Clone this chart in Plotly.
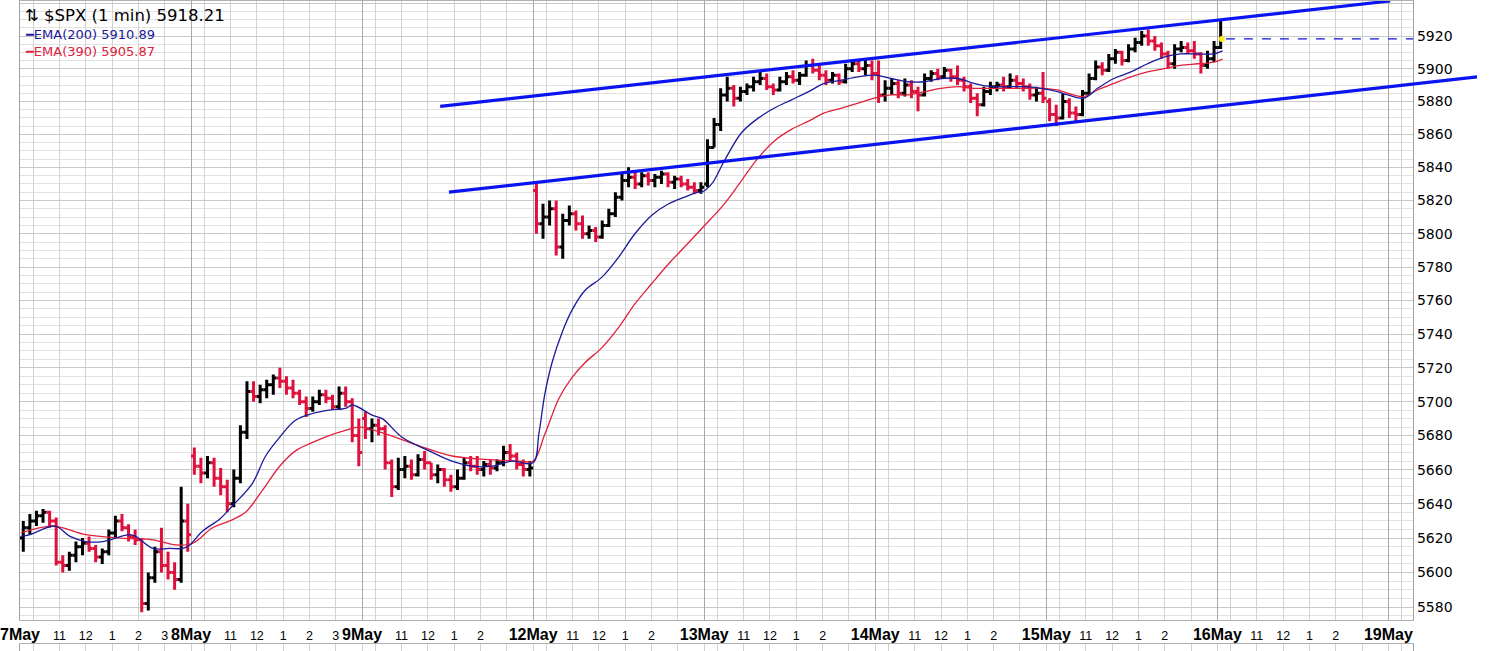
import math
import plotly.graph_objects as go

# ---------------- data (15-minute OHLC bars) ----------------
day_labels = ["7May", "8May", "9May", "12May", "13May", "14May", "15May", "16May", "19May"]
bars_per_day = [26, 26, 26, 26, 26, 26, 26, 1]

opens = [
    # 7 May
    5620, 5626, 5630, 5633, 5635, 5630, 5606, 5604, 5610, 5615, 5617, 5614, 5609, 5612, 5623, 5630, 5626, 5621, 5619, 5582, 5597, 5612, 5604, 5600, 5596, 5630,
    # 8 May
    5668, 5662, 5658, 5664, 5655, 5650, 5640, 5655, 5682, 5706, 5703, 5707, 5710, 5714, 5712, 5708, 5705, 5700, 5696, 5700, 5704, 5702, 5697, 5705, 5700, 5680,
    # 9 May
    5690, 5684, 5686, 5684, 5664, 5650, 5660, 5662, 5657, 5666, 5664, 5657, 5660, 5654, 5650, 5655, 5664, 5662, 5660, 5663, 5661, 5664, 5670, 5668, 5663, 5660,
    # 12 May
    5826, 5806, 5810, 5815, 5792, 5808, 5812, 5806, 5800, 5802, 5798, 5805, 5812, 5822, 5832, 5834, 5830, 5835, 5832, 5834, 5836, 5831, 5833, 5830, 5828, 5826,
    # 13 May
    5830, 5852, 5866, 5884, 5888, 5882, 5886, 5889, 5892, 5894, 5889, 5887, 5892, 5895, 5893, 5896, 5902, 5899, 5896, 5893, 5896, 5892, 5900, 5903, 5900, 5902,
    # 14 May
    5897, 5884, 5888, 5891, 5885, 5890, 5886, 5884, 5894, 5897, 5895, 5899, 5895, 5893, 5889, 5882, 5878, 5886, 5889, 5890, 5889, 5893, 5891, 5889, 5884, 5885,
    # 15 May
    5880, 5872, 5870, 5880, 5873, 5872, 5885, 5894, 5901, 5899, 5906, 5910, 5905, 5912, 5916, 5920, 5917, 5914, 5909, 5903, 5912, 5913, 5911, 5909, 5902, 5906,
    # 16 May
    5913,
]
highs = [
    5630, 5634, 5636, 5637, 5636, 5632, 5610, 5612, 5618, 5620, 5621, 5616, 5614, 5625, 5633, 5634, 5628, 5625, 5620, 5600, 5615, 5626, 5612, 5606, 5650, 5640,
    5673, 5667, 5668, 5667, 5661, 5654, 5660, 5686, 5712, 5712, 5710, 5713, 5716, 5720, 5715, 5713, 5707, 5703, 5703, 5707, 5707, 5704, 5709, 5709, 5702, 5690,
    5694, 5690, 5690, 5686, 5666, 5667, 5668, 5666, 5669, 5671, 5664, 5663, 5661, 5657, 5660, 5667, 5668, 5668, 5665, 5666, 5666, 5674, 5675, 5670, 5666, 5665,
    5830, 5818, 5820, 5820, 5812, 5817, 5814, 5811, 5805, 5804, 5808, 5815, 5825, 5836, 5840, 5837, 5837, 5837, 5836, 5838, 5837, 5835, 5835, 5833, 5831, 5831,
    5857, 5870, 5888, 5895, 5890, 5889, 5891, 5895, 5898, 5897, 5891, 5895, 5898, 5899, 5898, 5905, 5906, 5902, 5899, 5898, 5897, 5903, 5905, 5905, 5906, 5905,
    5905, 5893, 5894, 5893, 5894, 5893, 5889, 5897, 5899, 5900, 5901, 5900, 5902, 5895, 5891, 5885, 5889, 5892, 5892, 5895, 5897, 5896, 5894, 5891, 5889, 5898,
    5882, 5878, 5885, 5882, 5877, 5887, 5897, 5905, 5904, 5909, 5912, 5911, 5915, 5919, 5923, 5924, 5920, 5916, 5911, 5915, 5917, 5916, 5917, 5910, 5911, 5917,
    5930,
]
lows = [
    5612, 5622, 5627, 5629, 5626, 5604, 5600, 5601, 5606, 5610, 5612, 5606, 5605, 5610, 5620, 5624, 5618, 5616, 5577, 5578, 5594, 5600, 5596, 5590, 5594, 5612,
    5657, 5652, 5655, 5650, 5645, 5635, 5638, 5652, 5678, 5700, 5699, 5702, 5704, 5708, 5704, 5702, 5698, 5691, 5694, 5698, 5699, 5695, 5695, 5697, 5676, 5662,
    5678, 5676, 5680, 5660, 5644, 5648, 5655, 5654, 5656, 5660, 5654, 5652, 5650, 5647, 5648, 5654, 5659, 5657, 5656, 5657, 5659, 5662, 5665, 5660, 5656, 5656,
    5800, 5797, 5805, 5787, 5785, 5805, 5802, 5797, 5797, 5795, 5797, 5804, 5810, 5820, 5828, 5827, 5828, 5829, 5828, 5830, 5828, 5827, 5828, 5826, 5824, 5824,
    5828, 5852, 5862, 5880, 5877, 5880, 5884, 5886, 5890, 5887, 5884, 5886, 5890, 5891, 5890, 5895, 5897, 5893, 5890, 5891, 5890, 5891, 5898, 5898, 5896, 5893,
    5879, 5880, 5884, 5882, 5883, 5882, 5874, 5883, 5892, 5893, 5894, 5892, 5890, 5886, 5879, 5871, 5877, 5884, 5886, 5886, 5888, 5888, 5886, 5881, 5880, 5879,
    5868, 5865, 5869, 5870, 5868, 5871, 5884, 5893, 5896, 5898, 5903, 5902, 5904, 5910, 5914, 5914, 5911, 5906, 5900, 5900, 5910, 5909, 5906, 5897, 5900, 5904,
    5912,
]
closes = [
    5626, 5630, 5633, 5635, 5630, 5606, 5604, 5610, 5615, 5617, 5614, 5609, 5612, 5623, 5630, 5626, 5621, 5619, 5582, 5597, 5612, 5604, 5600, 5596, 5630, 5622,
    5662, 5658, 5664, 5655, 5650, 5640, 5655, 5682, 5706, 5703, 5707, 5710, 5714, 5712, 5708, 5705, 5700, 5696, 5700, 5704, 5702, 5697, 5705, 5700, 5680, 5670,
    5684, 5686, 5684, 5664, 5650, 5660, 5662, 5657, 5666, 5664, 5657, 5660, 5654, 5650, 5655, 5664, 5662, 5660, 5663, 5661, 5664, 5670, 5668, 5663, 5660, 5661,
    5806, 5810, 5815, 5792, 5808, 5812, 5806, 5800, 5802, 5798, 5805, 5812, 5822, 5832, 5834, 5830, 5835, 5832, 5834, 5836, 5831, 5833, 5830, 5828, 5826, 5828,
    5852, 5866, 5884, 5888, 5882, 5886, 5889, 5892, 5894, 5889, 5887, 5892, 5895, 5893, 5896, 5902, 5899, 5896, 5893, 5896, 5892, 5900, 5903, 5900, 5902, 5897,
    5884, 5888, 5891, 5885, 5890, 5886, 5884, 5894, 5897, 5895, 5899, 5895, 5893, 5889, 5882, 5878, 5886, 5889, 5890, 5889, 5893, 5891, 5889, 5884, 5885, 5882,
    5872, 5870, 5880, 5873, 5872, 5885, 5894, 5901, 5899, 5906, 5910, 5905, 5912, 5916, 5920, 5917, 5914, 5909, 5903, 5912, 5913, 5911, 5909, 5902, 5906, 5913,
    5918.21,
]

# EMA readings: time in trading minutes since 7 May 9:30 (390 per session)
ema200_t = [2, 23, 80, 114, 150, 189, 250, 264, 303, 341, 371, 387, 416, 455, 485, 530, 560, 592, 628, 667, 705, 742, 758,
            803, 826, 871, 933, 985, 1031, 1076, 1122, 1170, 1183, 1197, 1213, 1236, 1258, 1288, 1327, 1365, 1402, 1440,
            1479, 1515, 1547, 1554, 1577, 1606, 1645, 1684, 1720, 1759, 1798, 1834, 1873, 1911, 1948, 1986, 2025, 2062,
            2100, 2139, 2175, 2214, 2253, 2289, 2328, 2366, 2389, 2426, 2457, 2494, 2533, 2571, 2608, 2646, 2685, 2721, 2742]
ema200_v = [5621, 5622, 5627, 5621, 5618, 5618, 5622, 5621, 5614, 5614, 5614, 5616, 5624, 5631, 5639, 5652, 5668, 5679, 5689,
            5693, 5695, 5696, 5698, 5692, 5690, 5679, 5671, 5665, 5662, 5662, 5665, 5664, 5681, 5705, 5723, 5741, 5754, 5766,
            5774, 5786, 5800, 5811, 5818, 5822, 5825, 5825, 5830, 5844, 5861, 5870, 5876, 5881, 5886, 5891, 5893, 5895, 5896,
            5894, 5892, 5892, 5894, 5894, 5891, 5889, 5889, 5889, 5888, 5886, 5884, 5882, 5888, 5894, 5898, 5903, 5907, 5909,
            5909, 5909, 5910.89]
ema390_t = [2, 75, 150, 228, 303, 355, 394, 439, 478, 514, 553, 592, 628, 667, 705, 742, 774, 833, 910, 985, 1060, 1138,
            1170, 1197, 1229, 1258, 1288, 1327, 1365, 1402, 1440, 1479, 1515, 1554, 1606, 1645, 1684, 1720, 1759, 1798, 1834,
            1873, 1911, 1948, 1986, 2025, 2062, 2100, 2139, 2175, 2214, 2253, 2289, 2328, 2366, 2389, 2426, 2457, 2494, 2533,
            2571, 2608, 2646, 2685, 2721, 2742]
ema390_v = [5623, 5627, 5622, 5620, 5619, 5616, 5617, 5626, 5630, 5635, 5648, 5662, 5671, 5676, 5680, 5683, 5685, 5681, 5674,
            5668, 5666, 5665, 5665, 5681, 5702, 5714, 5723, 5732, 5744, 5758, 5770, 5782, 5792, 5803, 5818, 5832, 5846, 5856,
            5863, 5868, 5873, 5876, 5879, 5882, 5884, 5884, 5886, 5888, 5889, 5888, 5888, 5888, 5888, 5888, 5887, 5885, 5883,
            5887, 5891, 5895, 5898, 5900, 5902, 5903, 5904, 5905.87]

# hand-drawn trend lines (time in trading minutes, price)
upper_t = [958, 3124]
upper_p = [5877, 5941.5]
lower_t = [978, 3322]
lower_p = [5825, 5895]

y_ticks = list(range(5580, 5941, 20))
y_minor = list(range(5575, 5941, 5))
hour_offsets = [30, 90, 150, 210, 270, 330]
hour_labels = ["", "11", "12", "1", "2", "3"]
days_with_3pm_label = [0, 1]

last_price = closes[-1]
ema200_last = ema200_v[-1]
ema390_last = ema390_v[-1]

# ---------------- derived time axis ----------------
SESSION = 390
BAR = 15
bar_t = []
for d, n in enumerate(bars_per_day):
    for i in range(n):
        bar_t.append(d * SESSION + i * BAR + BAR / 2)

W, H = 1492, 651
X_MAX = 3176.4
PLOT_W = 1396          # price panel width
PAPER_W = 1468         # paper width (extra room so trend lines can run past the scale)
X2_MAX = X_MAX * PAPER_W / PLOT_W
MAIN_BOTTOM = 620      # price panel bottom (px from top)
LOWER_TOP = 644        # next indicator panel top (px from top)

tickvals, ticktext = [], []
for d, lab in enumerate(day_labels):
    base = d * SESSION
    tickvals.append(base)
    ticktext.append("<b><span style='font-size:16px'>%s</span></b>" % lab)
    for off, hl in zip(hour_offsets, hour_labels):
        v = base + off
        if v > X_MAX:
            continue
        if hl == "3" and d not in days_with_3pm_label:
            hl = ""
        tickvals.append(v)
        ticktext.append(hl)
day_vals = [d * SESSION for d in range(1, len(day_labels))]

fig = go.Figure()

fig.add_trace(go.Ohlc(
    x=bar_t, open=opens, high=highs, low=lows, close=closes,
    increasing=dict(line=dict(color="#000000", width=3)),
    decreasing=dict(line=dict(color="#e0103c", width=3)),
    tickwidth=0.5, showlegend=False, hoverinfo="skip",
    xaxis="x", yaxis="y",
))
fig.add_trace(go.Scatter(x=ema390_t, y=ema390_v, mode="lines",
                         line=dict(color="#e0203c", width=1.3, shape="spline"),
                         showlegend=False, hoverinfo="skip"))
fig.add_trace(go.Scatter(x=ema200_t, y=ema200_v, mode="lines",
                         line=dict(color="#1a1a9a", width=1.3, shape="spline"),
                         showlegend=False, hoverinfo="skip"))
# last-price dashed line and marker
fig.add_trace(go.Scatter(x=[bar_t[-1] + 12, X_MAX], y=[last_price, last_price], mode="lines",
                         line=dict(color="#1010e0", width=1.3, dash="dash"),
                         showlegend=False, hoverinfo="skip"))
fig.add_trace(go.Scatter(x=[bar_t[-1] + 3], y=[last_price], mode="markers",
                         marker=dict(color="#ffee22", size=6),
                         showlegend=False, hoverinfo="skip"))
# trend lines on an extended axis pair so they may run past the price scale
for tt, pp in ((upper_t, upper_p), (lower_t, lower_p)):
    fig.add_trace(go.Scatter(x=tt, y=pp, mode="lines",
                             line=dict(color="#0a14f0", width=3.2),
                             xaxis="x2", yaxis="y2",
                             showlegend=False, hoverinfo="skip"))
# empty lower indicator panel (only its top edge is visible)
fig.add_trace(go.Scatter(x=[0], y=[-1], mode="markers", marker=dict(opacity=0),
                         xaxis="x3", yaxis="y3", showlegend=False, hoverinfo="skip"))
# invisible trace so the session-boundary overlay axis is drawn
fig.add_trace(go.Scatter(x=[0], y=[5500], mode="markers", marker=dict(opacity=0),
                         xaxis="x4", yaxis="y", showlegend=False, hoverinfo="skip"))

y_range = [math.log10(5572.5), math.log10(5941.5)]
main_dom = [(H - MAIN_BOTTOM) / H, 1]
lower_dom = [0, (H - LOWER_TOP) / H]

fig.update_layout(
    width=W, height=H,
    margin=dict(l=17, r=W - 17 - PAPER_W, t=0, b=0),
    paper_bgcolor="white", plot_bgcolor="rgba(0,0,0,0)",
    xaxis=dict(domain=[0, PLOT_W / PAPER_W], range=[0, X_MAX], tickmode="array", anchor="y",
               tickvals=tickvals, ticktext=ticktext, showgrid=True, gridcolor="#d2d2d2",
               gridwidth=1, zeroline=False, ticks="", showline=True, mirror=True,
               linecolor="#b0b0b0", tickfont=dict(family="Liberation Sans", size=12.5, color="black"),
               ticklabeloverflow="allow", ticklabelstandoff=4,
               rangeslider=dict(visible=False), fixedrange=True),
    xaxis4=dict(overlaying="x", range=[0, X_MAX], anchor="y", tickmode="array",
                tickvals=day_vals, showticklabels=False, showgrid=True, gridcolor="#a8a8a8",
                gridwidth=1.2, zeroline=False, ticks="", showline=False, fixedrange=True),
    yaxis=dict(type="log", range=y_range, side="right", anchor="x", domain=main_dom,
               tickmode="array", tickvals=y_ticks, ticktext=[str(v) for v in y_ticks],
               showgrid=True, gridcolor="#c8c8c8", zeroline=False, ticks="",
               showline=True, mirror=True, linecolor="#a0a0a0",
               minor=dict(tickmode="array", tickvals=y_minor, showgrid=True,
                          gridcolor="#e2e2e2", ticks=""),
               tickfont=dict(family="DejaVu Sans", size=14, color="black"),
               fixedrange=True),
    xaxis2=dict(domain=[0, 1], range=[0, X2_MAX], anchor="y2", visible=False,
                showgrid=False, fixedrange=True),
    yaxis2=dict(domain=main_dom, type="log", range=y_range, anchor="x2", visible=False,
                showgrid=False, fixedrange=True),
    xaxis3=dict(domain=[0, PLOT_W / PAPER_W], range=[0, X_MAX], anchor="y3",
                tickmode="array", tickvals=tickvals, showticklabels=False, showgrid=True,
                gridcolor="#d2d2d2", zeroline=False, ticks="", showline=True, mirror=True,
                linecolor="#b0b0b0", fixedrange=True),
    yaxis3=dict(domain=lower_dom, range=[0, 1], anchor="x3", side="right", showticklabels=False,
                showgrid=False, zeroline=False, ticks="", showline=True, mirror=True,
                linecolor="#a0a0a0", fixedrange=True),
    showlegend=False,
)


def py(px):
    return 1 - px / H


fig.add_annotation(xref="paper", yref="paper", x=3 / PAPER_W, y=py(15), xanchor="left", yanchor="middle",
                   text="⇅ $SPX (1 min) %.2f" % last_price, showarrow=False,
                   font=dict(family="DejaVu Sans", size=16.5, color="black"))
fig.add_annotation(xref="paper", yref="paper", x=3 / PAPER_W, y=py(34), xanchor="left", yanchor="middle",
                   text="<b>━</b>EMA(200) %.2f" % ema200_last, showarrow=False,
                   font=dict(family="DejaVu Sans", size=13, color="#1a1a9a"))
fig.add_annotation(xref="paper", yref="paper", x=3 / PAPER_W, y=py(51), xanchor="left", yanchor="middle",
                   text="<b>━</b>EMA(390) %.2f" % ema390_last, showarrow=False,
                   font=dict(family="DejaVu Sans", size=13, color="#e0203c"))

fig.write_html("out.html", config={"displayModeBar": False},
               post_script="document.body.style.margin='0';")
